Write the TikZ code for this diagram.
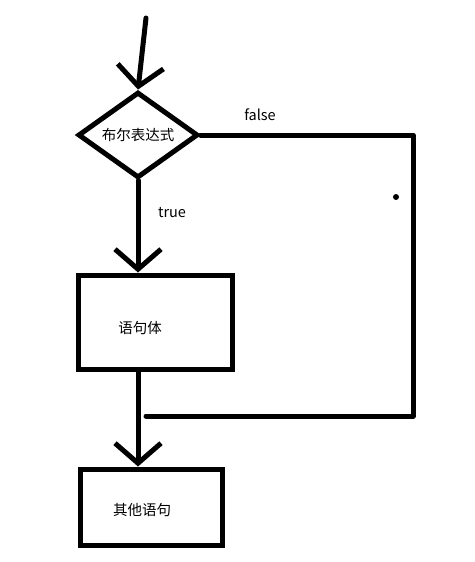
\documentclass[tikz,border=0pt]{standalone}
\usepackage{fontspec}
\setmainfont{Noto Sans CJK SC}
\usetikzlibrary{shapes.geometric, arrows.meta, positioning, calc}

\begin{document}
\begin{tikzpicture}[x=1pt, y=-1pt,
    flowline/.style={line width=5pt, line cap=round, line join=round},
    flowarrow/.style={flowline, -{Straight Barb[length=20pt, width=46pt]}},
    box/.style={draw, line width=5pt, inner sep=0pt},
    labeltext/.style={font=\fontsize{14.5}{17}\selectfont}]
    \useasboundingbox (0,0) rectangle (474,562);

    % Nodes
    \node[diamond, draw, line width=5pt, minimum width=120pt, minimum height=80pt,
          inner sep=0pt, labeltext] (cond) at (138,135) {布尔表达式};
    \node[box, minimum width=154pt, minimum height=94pt] (body) at (155,322) {};
    \node[labeltext] (bodytext) at (140,328) {语句体};
    \node[box, minimum width=142pt, minimum height=76pt] (other) at (151,507) {};
    \node[labeltext] (othertext) at (142,510) {其他语句};
    \node[labeltext] (falsetext) at (260,115) {false};
    \node[labeltext] (truetext) at (172,213) {true};
    \node[circle, fill, inner sep=0pt, minimum size=6pt] (dot) at (396,197) {};

    \coordinate (start) at (146,18);
    \coordinate (turn) at (413,416);
    \coordinate (merge) at (146,416);

    % Arrows
    \draw[flowarrow] (start) -- (cond.north);
    \draw[flowarrow] (cond.south) -- (cond.south |- body.north);
    \draw[flowarrow] (body.south -| cond.south) -- (cond.south |- other.north);
    \draw[flowline] (cond.east) -| (turn) -- (merge);
\end{tikzpicture}
\end{document}
